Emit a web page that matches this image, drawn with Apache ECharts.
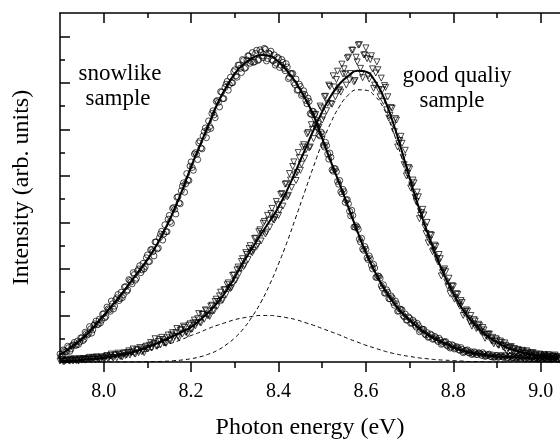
<!DOCTYPE html>
<html>
<head>
<meta charset="utf-8">
<script src="https://cdn.jsdelivr.net/npm/echarts@6.0.0/dist/echarts.min.js"></script>
<style>
  html, body { margin: 0; padding: 0; background: #fff; }
  #chart { width: 560px; height: 442px; }
</style>
</head>
<body>
<div id="chart"></div>
<script>
// energy grids (eV)
const dataStart = 7.9, dataStep = 0.005;     // measured points, pass 1
const data2Start = 7.9025;                   // measured points, pass 2 (same step)
const fitStart = 7.9, fitStep = 0.02;        // fitted curves

// snowlike sample, measured (open circles)
const snowData = [
  .17,.13,.24,.22,.31,.28,.37,.36,.45,.43,
  .52,.49,.61,.6,.71,.69,.82,.8,.92,.9,
  1.04,.98,1.14,1.09,1.25,1.2,1.38,1.32,1.5,1.44,
  1.62,1.55,1.75,1.68,1.88,1.8,2.0,1.92,2.12,2.05,
  2.3,2.16,2.42,2.28,2.58,2.45,2.75,2.62,2.95,2.8,
  3.15,2.98,3.32,3.18,3.55,3.4,3.78,3.65,4.05,3.9,
  4.3,4.12,4.5,4.35,4.75,4.58,4.95,4.82,5.18,5.02,
  5.4,5.25,5.62,5.48,5.8,5.66,5.97,5.84,6.12,6.0,
  6.28,6.12,6.38,6.22,6.48,6.33,6.58,6.42,6.65,6.45,
  6.7,6.5,6.66,6.54,6.72,6.52,6.62,6.5,6.6,6.42,
  6.52,6.38,6.44,6.26,6.34,6.12,6.2,6.0,6.08,5.85,
  5.92,5.76,5.75,5.55,5.6,5.32,5.38,5.1,5.14,4.86,
  4.9,4.62,4.65,4.36,4.4,4.1,4.15,3.88,3.9,3.62,
  3.66,3.48,3.4,3.14,3.15,2.9,2.9,2.64,2.66,2.4,
  2.42,2.2,2.22,2.0,2.02,1.82,1.84,1.64,1.66,1.48,
  1.5,1.36,1.38,1.22,1.25,1.1,1.13,1.0,1.03,.9,
  .94,.84,.86,.75,.78,.68,.7,.6,.63,.54,
  .58,.5,.52,.44,.47,.4,.43,.36,.38,.32,
  .35,.3,.31,.25,.27,.22,.24,.2,.22,.18,
  .2,.16,.19,.14,.17,.13,.16,.12,.15,.11,
  .14,.11,.13,.1,.13,.09,.12,.09,.12,.09,
  .11,.08,.11,.07,.1,.08,.1,.07,.09,.07,
  .09,.07,.09,.06,.08,.07,.08,.06,.08,.06,.07
];
const snowData2 = [
  .12,.26,.22,.34,.23,.35,.42,.36,.38,.52,
  .46,.64,.58,.76,.62,.79,.88,.81,.84,1.03,
  .95,1.18,1.12,1.31,1.14,1.34,1.45,1.36,1.38,1.61,
  1.52,1.77,1.72,1.92,1.76,1.96,2.07,1.98,2.0,2.24,
  2.16,2.41,2.37,2.58,2.43,2.67,2.81,2.75,2.8,3.07,
  3.02,3.3,3.28,3.54,3.42,3.68,3.85,3.83,3.91,4.21,
  4.18,4.47,4.46,4.71,4.6,4.86,5.03,4.99,5.06,5.34,
  5.31,5.6,5.58,5.81,5.66,5.9,6.03,5.96,6.0,6.24,
  6.15,6.38,6.31,6.5,6.31,6.49,6.58,6.46,6.44,6.63,
  6.48,6.71,6.58,6.74,6.47,6.64,6.68,6.47,6.38,6.55,
  6.33,6.5,6.31,6.41,6.09,6.2,6.2,5.96,5.84,5.97,
  5.73,5.83,5.62,5.67,5.34,5.39,5.33,5.06,4.89,4.94,
  4.66,4.72,4.47,4.49,4.13,4.16,4.09,3.82,3.66,3.71,
  3.43,3.49,3.24,3.26,2.9,2.93,2.85,2.58,2.43,2.48,
  2.24,2.28,2.08,2.1,1.82,1.85,1.8,1.59,1.48,1.55,
  1.36,1.42,1.28,1.31,1.09,1.14,1.12,.97,.9,.97,
  .83,.9,.79,.83,.65,.71,.7,.58,.53,.6,
  .49,.55,.47,.51,.38,.43,.44,.34,.3,.37,
  .28,.33,.26,.31,.2,.25,.26,.19,.16,.22,
  .16,.2,.17,.2,.12,.15,.17,.11,.1,.14,
  .1,.14,.11,.15,.08,.12,.14,.09,.08,.12,
  .08,.12,.09,.13,.06,.1,.12,.07,.06,.1,
  .06,.1,.07,.11,.05,.08,.1,.06,.05,.09
];

// good quality sample, measured (open down triangles)
const goodData = [
  .02,.05,.01,.04,.03,.06,.02,.05,.04,.07,
  .04,.07,.05,.08,.06,.09,.05,.1,.07,.11,
  .08,.12,.07,.13,.1,.15,.09,.16,.12,.18,
  .14,.2,.15,.22,.18,.26,.2,.28,.24,.32,
  .28,.36,.3,.4,.34,.44,.37,.48,.42,.52,
  .46,.58,.5,.63,.55,.68,.6,.74,.64,.79,
  .7,.84,.78,.93,.85,1.02,.92,1.1,1.0,1.2,
  1.1,1.3,1.2,1.42,1.32,1.55,1.45,1.7,1.58,1.86,
  1.74,1.98,1.9,2.16,2.05,2.35,2.2,2.5,2.35,2.65,
  2.48,2.8,2.6,2.98,2.75,3.15,2.9,3.3,3.05,3.45,
  3.15,3.6,3.35,3.82,3.55,4.05,3.75,4.3,3.9,4.5,
  4.12,4.62,4.38,4.9,4.6,5.1,4.8,5.32,5.0,5.5,
  5.2,5.7,5.4,5.95,5.55,6.15,5.7,6.25,5.85,6.4,
  6.3,5.95,6.55,6.2,6.7,6.05,6.45,6.82,6.2,6.6,
  6.75,6.15,6.5,6.3,5.95,6.45,5.85,6.1,5.6,5.9,
  5.7,5.3,5.45,4.95,5.2,4.7,4.85,4.4,4.55,4.05,
  4.15,3.78,3.85,3.45,3.55,3.15,3.28,2.9,3.0,2.62,
  2.72,2.4,2.48,2.15,2.22,1.92,2.0,1.72,1.8,1.55,
  1.62,1.38,1.45,1.2,1.28,1.05,1.12,.93,1.0,.82,
  .88,.74,.78,.64,.69,.56,.6,.5,.53,.44,
  .47,.38,.42,.33,.36,.29,.32,.26,.29,.23,
  .25,.2,.23,.18,.21,.16,.19,.15,.17,.13,
  .15,.12,.14,.11,.13,.11,.12,.1,.12,.1,.11
];
const goodData2 = [
  .04,.01,.03,.06,.02,.04,.07,.03,.02,.06,
  .07,.04,.06,.1,.05,.08,.11,.06,.05,.1,
  .08,.14,.1,.17,.09,.15,.19,.12,.11,.2,
  .15,.24,.2,.28,.17,.26,.31,.22,.2,.34,
  .29,.42,.37,.5,.34,.48,.53,.43,.4,.58,
  .47,.63,.55,.72,.52,.7,.77,.64,.6,.82,
  .71,.9,.84,1.04,.84,1.03,1.12,1.0,.98,1.22,
  1.1,1.35,1.3,1.5,1.33,1.55,1.66,1.59,1.6,1.87,
  1.76,2.04,2.0,2.22,2.08,2.31,2.44,2.36,2.4,2.66,
  2.53,2.84,2.76,3.02,2.79,3.05,3.19,3.06,3.1,3.38,
  3.26,3.62,3.53,3.83,3.58,3.91,4.2,4.02,4.07,4.39,
  4.25,4.67,4.56,4.93,4.62,5.0,5.19,5.02,5.05,5.46,
  5.27,5.71,5.56,5.92,5.54,5.91,6.07,5.83,5.8,6.19,
  6.19,6.53,6.06,6.7,6.02,6.55,6.81,6.31,6.11,6.6,
  6.52,6.08,6.58,5.88,6.21,6.28,5.7,5.85,5.94,5.42,
  5.24,5.47,5.09,5.23,4.62,4.76,4.7,4.24,4.0,4.18,
  3.74,3.91,3.54,3.65,3.08,3.21,3.16,2.76,2.56,2.74,
  2.37,2.51,2.22,2.31,1.85,1.97,1.94,1.62,1.47,1.64,
  1.35,1.47,1.25,1.32,1.0,1.09,1.09,.86,.77,.91,
  .72,.81,.66,.74,.51,.59,.6,.45,.39,.5,
  .36,.45,.35,.41,.24,.31,.33,.22,.19,.27,
  .19,.25,.19,.24,.14,.19,.2,.13,.1,.17,
  .1,.16,.12,.16,.08,.13,.15,.1,.08,.14
];

// fits, 7.90 ... 9.04 eV
const snowFit = [
  .15,.28,.42,.58,.78,1.0,1.22,1.45,1.7,1.95,
  2.2,2.5,2.85,3.25,3.7,4.2,4.65,5.1,5.55,5.9,
  6.2,6.4,6.53,6.6,6.58,6.45,6.25,6.0,5.68,5.3,
  4.8,4.3,3.82,3.32,2.82,2.35,1.95,1.6,1.32,1.08,
  .9,.74,.6,.49,.4,.32,.25,.2,.17,.14,
  .12,.11,.1,.09,.08,.08,.07,.07
];
const goodFit = [
  .02,.03,.04,.06,.07,.09,.12,.15,.19,.25,
  .32,.39,.47,.56,.65,.75,.9,1.07,1.27,1.52,
  1.82,2.15,2.45,2.75,3.03,3.33,3.7,4.12,4.55,4.98,
  5.38,5.72,5.98,6.15,6.26,6.24,6.05,5.7,5.2,4.6,
  3.95,3.35,2.8,2.3,1.85,1.48,1.15,.9,.7,.54,
  .42,.32,.25,.2,.16,.13,.11,.1
];
// two components of the good-quality fit (dashed)
const peakNarrow = [
  0,0,0,0,0,0,0,0,0,.002,
  .005,.009,.016,.027,.044,.071,.11,.17,.25,.37,
  .52,.72,.98,1.29,1.67,2.11,2.59,3.12,3.66,4.2,
  4.71,5.15,5.5,5.74,5.85,5.84,5.72,5.46,5.01,4.45,
  3.83,3.26,2.73,2.25,1.81,1.45,1.13,.87,.66,.48,
  .34,.24,.16,.1,.06,.04,.02,.01
];
const peakBroad = [
  .01,.02,.03,.04,.05,.07,.09,.12,.15,.19,
  .24,.3,.36,.42,.49,.57,.64,.72,.79,.85,
  .91,.95,.98,1.0,1.0,.98,.95,.91,.85,.79,
  .72,.65,.58,.5,.43,.36,.3,.24,.19,.15,
  .12,.09,.07,.05,.04,.03,.02,.01,.01,0,
  0,0,0,0,0,0,0,0
];

const xMajor = [8.0, 8.2, 8.4, 8.6, 8.8, 9.0];
const xMinor = [8.1, 8.3, 8.5, 8.7, 8.9];
const yMajor = [0, 1, 2, 3, 4, 5, 6, 7];
const yMinor = [0.5, 1.5, 2.5, 3.5, 4.5, 5.5, 6.5];

function pairs(arr, start, step) {
  return arr.map((v, i) => [+(start + i * step).toFixed(4), v]);
}

const font = 'Liberation Serif';
const myChart = echarts.init(document.getElementById('chart'));

const xBase = {
  type: 'value', min: 7.9, max: 9.044,
  splitLine: {show: false},
  axisLine: {show: false, onZero: false},
  axisLabel: {show: false},
  axisTick: {show: false}
};
function xAx(extra) { return Object.assign({}, xBase, extra); }

// hollow markers: no fill, so overlapping outlines darken the band
const hollowStyle = {color: 'rgba(0,0,0,0)', borderColor: '#000', borderWidth: 0.9};

const option = {
  animation: false,
  backgroundColor: '#fff',
  grid: {left: 60, top: 13, right: 0, bottom: 80, containLabel: false, outerBoundsMode: 'none'},
  xAxis: [
    xAx({
      position: 'bottom',
      axisLine: {show: true, onZero: false, lineStyle: {color: '#000', width: 1.5}},
      axisTick: {show: true, inside: false, length: 10, customValues: xMajor, lineStyle: {color: '#000', width: 1.5}},
      axisLabel: {show: true, customValues: xMajor, margin: 20, color: '#000', fontSize: 20, fontFamily: font,
        formatter: v => v.toFixed(1)},
      name: 'Photon energy (eV)', nameLocation: 'middle', nameGap: 54,
      nameTextStyle: {color: '#000', fontSize: 24, fontFamily: font}
    }),
    xAx({
      position: 'bottom',
      axisTick: {show: true, inside: false, length: 6, customValues: xMinor, lineStyle: {color: '#000', width: 1.5}}
    }),
    xAx({
      position: 'top',
      axisLine: {show: true, onZero: false, lineStyle: {color: '#000', width: 1.5}},
      axisTick: {show: true, inside: true, length: 10, customValues: xMajor, lineStyle: {color: '#000', width: 1.5}}
    }),
    xAx({
      position: 'top',
      axisTick: {show: true, inside: true, length: 5, customValues: xMinor, lineStyle: {color: '#000', width: 1.5}}
    })
  ],
  yAxis: [
    {
      type: 'value', min: 0, max: 7.5, position: 'left',
      splitLine: {show: false},
      axisLine: {show: true, onZero: false, lineStyle: {color: '#000', width: 1.5}},
      axisTick: {show: true, inside: true, length: 10, customValues: yMajor, lineStyle: {color: '#000', width: 1.5}},
      axisLabel: {show: false},
      name: 'Intensity (arb. units)', nameLocation: 'middle', nameGap: 26,
      nameTextStyle: {color: '#000', fontSize: 24, fontFamily: font}
    },
    {
      type: 'value', min: 0, max: 7.5, position: 'left',
      splitLine: {show: false},
      axisLine: {show: false, onZero: false},
      axisTick: {show: true, inside: true, length: 5, customValues: yMinor, lineStyle: {color: '#000', width: 1.5}},
      axisLabel: {show: false}
    }
  ],
  graphic: [
    {type: 'text', x: 120, y: 74, style: {text: 'snowlike', font: '23px "Liberation Serif"', fill: '#000', align: 'center', verticalAlign: 'middle'}},
    {type: 'text', x: 118, y: 99, style: {text: 'sample', font: '23px "Liberation Serif"', fill: '#000', align: 'center', verticalAlign: 'middle'}},
    {type: 'text', x: 457, y: 76, style: {text: 'good qualiy', font: '23px "Liberation Serif"', fill: '#000', align: 'center', verticalAlign: 'middle'}},
    {type: 'text', x: 452, y: 101, style: {text: 'sample', font: '23px "Liberation Serif"', fill: '#000', align: 'center', verticalAlign: 'middle'}}
  ],
  series: [
    {
      name: 'snowlike', type: 'scatter', symbol: 'circle', symbolSize: 6,
      itemStyle: hollowStyle, z: 2,
      data: pairs(snowData, dataStart, dataStep).concat(pairs(snowData2, data2Start, dataStep))
    },
    {
      name: 'good', type: 'scatter', symbol: 'triangle', symbolRotate: 180, symbolSize: 6,
      itemStyle: hollowStyle, z: 2,
      data: pairs(goodData, dataStart, dataStep).concat(pairs(goodData2, data2Start, dataStep))
    },
    {
      type: 'line', smooth: true, showSymbol: false, z: 4,
      lineStyle: {color: '#000', width: 2},
      data: pairs(snowFit, fitStart, fitStep)
    },
    {
      type: 'line', smooth: true, showSymbol: false, z: 4,
      lineStyle: {color: '#000', width: 2},
      data: pairs(goodFit, fitStart, fitStep)
    },
    {
      type: 'line', smooth: true, showSymbol: false, z: 3,
      lineStyle: {color: '#000', width: 1, type: [4, 3]},
      data: pairs(peakNarrow, fitStart, fitStep)
    },
    {
      type: 'line', smooth: true, showSymbol: false, z: 3,
      lineStyle: {color: '#000', width: 1, type: [4, 3]},
      data: pairs(peakBroad, fitStart, fitStep)
    }
  ]
};

option && myChart.setOption(option);
</script>
</body>
</html>
